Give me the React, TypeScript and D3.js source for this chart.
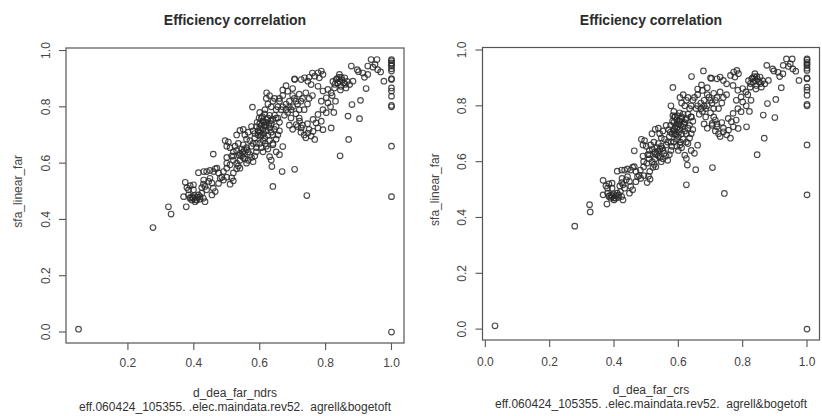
import React from 'react';
import * as d3 from 'd3';

// sfa_linear_far vs d_dea_far_ndrs (left panel)
const ndrsPoints: [number, number][] = [
  [0.05, 0.01], [1.0, 0.0], [0.276, 0.371], [0.323, 0.445], [0.331, 0.419], [0.377, 0.445],
  [0.369, 0.481], [0.384, 0.487], [0.399, 0.475], [0.409, 0.469], [0.419, 0.481], [0.429, 0.475], [0.414, 0.487],
  [0.394, 0.469], [0.404, 0.463], [0.434, 0.463], [0.424, 0.493], [0.39, 0.478], [0.41, 0.478], [0.402, 0.485],
  [0.374, 0.532], [0.389, 0.52], [0.399, 0.523], [0.384, 0.505], [0.399, 0.505], [0.379, 0.513],
  [0.429, 0.525], [0.424, 0.513], [0.434, 0.517], [0.439, 0.505], [0.455, 0.487], [0.459, 0.511], [0.455, 0.529],
  [0.449, 0.546], [0.465, 0.499], [0.414, 0.566], [0.43, 0.57], [0.43, 0.54],
  [0.439, 0.57], [0.449, 0.574], [0.465, 0.58], [0.47, 0.582], [0.475, 0.565], [0.48, 0.546], [0.485, 0.55],
  [0.49, 0.57], [0.5, 0.582], [0.51, 0.594], [0.5, 0.6], [0.5, 0.55], [0.52, 0.565], [0.52, 0.537], [0.51, 0.525],
  [0.53, 0.58], [0.54, 0.582], [0.535, 0.59], [0.515, 0.548], [0.49, 0.54], [0.475, 0.528], [0.459, 0.632],
  [0.46, 0.57], [0.445, 0.535],
  [0.5, 0.66], [0.51, 0.655], [0.52, 0.64], [0.525, 0.66], [0.53, 0.645], [0.54, 0.635], [0.545, 0.625], [0.55, 0.62],
  [0.555, 0.615], [0.545, 0.65], [0.535, 0.67], [0.55, 0.665], [0.56, 0.655], [0.565, 0.64], [0.57, 0.63],
  [0.575, 0.62], [0.58, 0.605], [0.56, 0.6], [0.565, 0.61], [0.585, 0.625], [0.59, 0.64], [0.52, 0.61], [0.53, 0.6],
  [0.54, 0.61], [0.5, 0.62], [0.515, 0.625], [0.495, 0.68], [0.505, 0.675], [0.53, 0.7], [0.54, 0.716], [0.555, 0.7],
  [0.56, 0.685], [0.57, 0.68], [0.575, 0.66], [0.58, 0.67], [0.59, 0.67], [0.585, 0.69], [0.595, 0.7], [0.55, 0.72],
  [0.565, 0.71], [0.575, 0.73],
  [0.578, 0.799], [0.621, 0.85], [0.62, 0.83], [0.616, 0.79], [0.63, 0.84], [0.64, 0.82], [0.635, 0.8], [0.645, 0.83],
  [0.625, 0.81], [0.65, 0.79], [0.655, 0.8], [0.66, 0.82], [0.6, 0.78], [0.605, 0.76], [0.61, 0.75], [0.6, 0.74],
  [0.59, 0.73], [0.615, 0.735], [0.62, 0.745], [0.625, 0.76], [0.63, 0.77], [0.635, 0.74], [0.64, 0.755], [0.645, 0.77],
  [0.61, 0.72], [0.6, 0.71], [0.605, 0.7], [0.615, 0.69], [0.625, 0.7], [0.62, 0.715], [0.63, 0.725], [0.635, 0.71],
  [0.64, 0.7], [0.645, 0.72], [0.61, 0.68], [0.6, 0.67], [0.62, 0.66], [0.63, 0.68], [0.625, 0.65], [0.64, 0.67],
  [0.65, 0.685], [0.655, 0.7], [0.66, 0.715], [0.65, 0.73], [0.66, 0.745], [0.655, 0.76], [0.637, 0.588], [0.635, 0.611],
  [0.63, 0.623], [0.64, 0.665], [0.67, 0.659], [0.668, 0.57], [0.64, 0.517], [0.65, 0.64], [0.66, 0.63], [0.61, 0.64],
  [0.67, 0.86], [0.685, 0.855], [0.7, 0.84], [0.705, 0.83], [0.69, 0.82], [0.68, 0.81], [0.7, 0.8], [0.715, 0.81],
  [0.73, 0.83], [0.72, 0.845], [0.7, 0.865], [0.68, 0.875], [0.67, 0.84], [0.66, 0.83], [0.685, 0.78], [0.71, 0.775],
  [0.72, 0.76], [0.695, 0.76], [0.675, 0.77], [0.68, 0.79], [0.72, 0.79], [0.735, 0.79], [0.745, 0.81], [0.75, 0.83],
  [0.76, 0.84], [0.74, 0.85], [0.706, 0.899], [0.69, 0.735], [0.7, 0.72], [0.715, 0.73], [0.73, 0.735], [0.745, 0.74],
  [0.75, 0.72], [0.735, 0.7], [0.74, 0.69], [0.725, 0.71], [0.706, 0.578], [0.743, 0.485],
  [0.736, 0.903], [0.746, 0.891], [0.726, 0.897], [0.706, 0.897], [0.756, 0.879], [0.777, 0.873], [0.792, 0.856],
  [0.807, 0.862], [0.817, 0.85], [0.802, 0.832], [0.787, 0.82], [0.807, 0.814], [0.792, 0.79], [0.802, 0.779],
  [0.777, 0.773], [0.762, 0.755], [0.771, 0.743], [0.787, 0.749], [0.817, 0.725], [0.792, 0.719], [0.777, 0.725],
  [0.762, 0.713], [0.746, 0.707], [0.756, 0.696], [0.767, 0.684], [0.726, 0.725], [0.721, 0.749], [0.711, 0.737],
  [0.787, 0.927], [0.792, 0.915], [0.777, 0.921], [0.781, 0.903], [0.767, 0.909], [0.76, 0.92], [0.75, 0.905],
  [0.842, 0.915], [0.858, 0.903], [0.832, 0.897], [0.837, 0.885], [0.847, 0.873], [0.862, 0.867], [0.873, 0.879],
  [0.883, 0.891], [0.827, 0.867], [0.85, 0.895], [0.855, 0.885], [0.84, 0.905], [0.865, 0.89], [0.845, 0.86],
  [0.82, 0.84], [0.83, 0.82], [0.815, 0.8], [0.825, 0.78], [0.844, 0.626], [0.87, 0.684], [0.868, 0.767],
  [0.903, 0.758], [0.88, 0.808], [0.906, 0.823], [0.923, 0.865],
  [0.938, 0.968], [0.956, 0.968], [0.928, 0.945], [0.944, 0.941], [0.878, 0.945], [0.896, 0.932], [0.913, 0.92],
  [0.928, 0.915], [0.918, 0.905], [0.958, 0.932], [0.967, 0.924], [0.977, 0.891], [0.9, 0.925], [0.95, 0.95],
  [1, 0.968], [1, 0.964], [1, 0.956], [1, 0.95], [1, 0.945], [1, 0.935], [1, 0.927], [1, 0.9], [1, 0.897],
  [1, 0.867], [1, 0.856], [1, 0.838], [1, 0.805], [1, 0.8], [1, 0.66], [1, 0.481],
  [0.6, 0.725], [0.605, 0.735], [0.612, 0.745], [0.618, 0.73], [0.622, 0.755], [0.608, 0.765], [0.615, 0.775],
  [0.598, 0.76], [0.592, 0.745], [0.628, 0.735], [0.633, 0.75], [0.603, 0.695], [0.612, 0.705], [0.595, 0.715],
  [0.585, 0.705], [0.58, 0.715], [0.617, 0.67], [0.605, 0.655], [0.59, 0.655], [0.548, 0.638], [0.553, 0.645],
  [0.538, 0.628], [0.56, 0.648], [0.52, 0.625], [0.65, 0.76], [0.67, 0.8], [0.665, 0.79], [0.69, 0.8], [0.695, 0.79],
  [0.71, 0.82], [0.725, 0.82], [0.835, 0.9], [0.848, 0.905], [0.843, 0.89], [0.828, 0.88], [0.822, 0.89], [0.86, 0.88],
  [0.388, 0.475], [0.396, 0.48], [0.405, 0.47], [0.418, 0.472],
];

// sfa_linear_far vs d_dea_far_crs (right panel)
const crsPoints: [number, number][] = [
  [0.03, 0.012], [1.0, 0.0], [0.278, 0.369], [0.324, 0.446], [0.326, 0.42], [0.378, 0.448],
  [0.366, 0.481], [0.38, 0.487], [0.395, 0.475], [0.405, 0.469], [0.415, 0.481], [0.424, 0.475], [0.41, 0.487],
  [0.39, 0.469], [0.4, 0.463], [0.428, 0.463], [0.42, 0.493], [0.386, 0.478], [0.406, 0.478], [0.398, 0.485],
  [0.366, 0.533], [0.384, 0.52], [0.394, 0.523], [0.38, 0.505], [0.394, 0.505], [0.375, 0.513],
  [0.424, 0.525], [0.418, 0.513], [0.428, 0.517], [0.433, 0.505], [0.448, 0.487], [0.452, 0.511], [0.448, 0.529],
  [0.442, 0.546], [0.458, 0.499], [0.41, 0.566], [0.424, 0.57], [0.425, 0.54],
  [0.433, 0.57], [0.442, 0.574], [0.458, 0.58], [0.463, 0.582], [0.468, 0.565], [0.473, 0.546], [0.478, 0.55],
  [0.482, 0.57], [0.492, 0.582], [0.502, 0.594], [0.492, 0.6], [0.493, 0.55], [0.511, 0.565], [0.512, 0.537],
  [0.503, 0.525], [0.521, 0.58], [0.53, 0.582], [0.525, 0.59], [0.507, 0.548], [0.483, 0.54], [0.468, 0.528],
  [0.463, 0.639], [0.452, 0.57], [0.438, 0.535],
  [0.49, 0.66], [0.5, 0.655], [0.51, 0.64], [0.514, 0.66], [0.519, 0.645], [0.528, 0.635], [0.533, 0.625],
  [0.538, 0.62], [0.543, 0.615], [0.533, 0.65], [0.524, 0.67], [0.538, 0.665], [0.547, 0.655], [0.552, 0.64],
  [0.557, 0.63], [0.562, 0.62], [0.567, 0.605], [0.547, 0.6], [0.552, 0.61], [0.572, 0.625], [0.577, 0.64],
  [0.509, 0.61], [0.519, 0.6], [0.528, 0.61], [0.49, 0.62], [0.505, 0.625], [0.485, 0.68], [0.495, 0.675],
  [0.518, 0.7], [0.528, 0.716], [0.542, 0.7], [0.547, 0.685], [0.557, 0.68], [0.562, 0.66], [0.567, 0.67],
  [0.577, 0.67], [0.572, 0.69], [0.581, 0.7], [0.538, 0.72], [0.552, 0.71], [0.562, 0.73],
  [0.577, 0.8], [0.583, 0.866], [0.605, 0.83], [0.583, 0.765], [0.615, 0.84], [0.625, 0.82], [0.62, 0.8],
  [0.63, 0.83], [0.61, 0.81], [0.635, 0.79], [0.64, 0.8], [0.645, 0.82], [0.586, 0.78], [0.59, 0.76], [0.595, 0.75],
  [0.586, 0.74], [0.576, 0.73], [0.6, 0.735], [0.605, 0.745], [0.61, 0.76], [0.615, 0.77], [0.62, 0.74],
  [0.625, 0.755], [0.63, 0.77], [0.595, 0.72], [0.586, 0.71], [0.59, 0.7], [0.6, 0.69], [0.61, 0.7], [0.605, 0.715],
  [0.615, 0.725], [0.62, 0.71], [0.625, 0.7], [0.63, 0.72], [0.595, 0.68], [0.586, 0.67], [0.605, 0.66],
  [0.615, 0.68], [0.61, 0.65], [0.625, 0.67], [0.635, 0.685], [0.64, 0.7], [0.645, 0.715], [0.635, 0.73],
  [0.645, 0.745], [0.64, 0.76], [0.628, 0.588], [0.625, 0.611], [0.62, 0.623], [0.63, 0.665], [0.66, 0.659],
  [0.654, 0.571], [0.625, 0.517], [0.64, 0.64], [0.65, 0.63], [0.6, 0.64],
  [0.66, 0.86], [0.675, 0.855], [0.69, 0.84], [0.695, 0.83], [0.68, 0.82], [0.67, 0.81], [0.69, 0.8], [0.705, 0.81],
  [0.72, 0.83], [0.71, 0.845], [0.69, 0.865], [0.672, 0.875], [0.66, 0.84], [0.65, 0.83], [0.675, 0.78],
  [0.7, 0.775], [0.71, 0.76], [0.685, 0.76], [0.665, 0.77], [0.67, 0.79], [0.71, 0.79], [0.725, 0.79], [0.735, 0.81],
  [0.74, 0.83], [0.75, 0.84], [0.73, 0.85], [0.703, 0.898], [0.68, 0.735], [0.69, 0.72], [0.705, 0.73], [0.72, 0.735],
  [0.735, 0.74], [0.74, 0.72], [0.725, 0.7], [0.73, 0.69], [0.715, 0.71], [0.706, 0.579], [0.743, 0.486],
  [0.73, 0.903], [0.74, 0.891], [0.72, 0.897], [0.7, 0.9], [0.75, 0.879], [0.77, 0.873], [0.785, 0.856],
  [0.8, 0.862], [0.81, 0.85], [0.795, 0.832], [0.78, 0.82], [0.8, 0.814], [0.785, 0.79], [0.795, 0.779],
  [0.77, 0.773], [0.755, 0.755], [0.765, 0.743], [0.78, 0.749], [0.812, 0.725], [0.786, 0.719], [0.771, 0.725],
  [0.756, 0.713], [0.74, 0.707], [0.75, 0.696], [0.762, 0.684], [0.72, 0.725], [0.715, 0.749], [0.705, 0.737],
  [0.782, 0.927], [0.787, 0.915], [0.772, 0.921], [0.776, 0.903], [0.762, 0.909], [0.678, 0.925], [0.641, 0.905],
  [0.838, 0.915], [0.854, 0.903], [0.828, 0.897], [0.833, 0.885], [0.843, 0.873], [0.858, 0.867], [0.869, 0.879],
  [0.88, 0.891], [0.823, 0.867], [0.846, 0.895], [0.851, 0.885], [0.836, 0.905], [0.862, 0.89], [0.841, 0.86],
  [0.816, 0.84], [0.826, 0.82], [0.811, 0.8], [0.821, 0.78], [0.845, 0.625], [0.867, 0.684], [0.864, 0.767],
  [0.9, 0.758], [0.877, 0.808], [0.903, 0.823], [0.92, 0.865],
  [0.936, 0.968], [0.954, 0.968], [0.926, 0.945], [0.942, 0.941], [0.875, 0.945], [0.893, 0.932], [0.91, 0.92],
  [0.925, 0.915], [0.915, 0.905], [0.956, 0.932], [0.965, 0.924], [0.975, 0.891], [0.897, 0.925], [0.948, 0.95],
  [1, 0.968], [1, 0.964], [1, 0.956], [1, 0.95], [1, 0.945], [1, 0.935], [1, 0.927], [1, 0.9], [1, 0.897],
  [1, 0.867], [1, 0.856], [1, 0.838], [1, 0.805], [1, 0.8], [1, 0.66], [1, 0.481],
  [0.59, 0.725], [0.595, 0.735], [0.602, 0.745], [0.607, 0.73], [0.611, 0.755], [0.597, 0.765], [0.604, 0.775],
  [0.588, 0.76], [0.582, 0.745], [0.617, 0.735], [0.622, 0.75], [0.593, 0.695], [0.601, 0.705], [0.585, 0.715],
  [0.575, 0.705], [0.57, 0.715], [0.606, 0.67], [0.595, 0.655], [0.58, 0.655], [0.538, 0.638], [0.543, 0.645],
  [0.528, 0.628], [0.55, 0.648], [0.51, 0.625], [0.64, 0.76], [0.66, 0.8], [0.655, 0.79], [0.68, 0.8], [0.685, 0.79],
  [0.7, 0.82], [0.715, 0.82], [0.831, 0.9], [0.844, 0.905], [0.839, 0.89], [0.824, 0.88], [0.818, 0.89], [0.856, 0.88],
  [0.384, 0.475], [0.392, 0.48], [0.4, 0.47], [0.413, 0.472],
];

const yTicks = [0, 0.2, 0.4, 0.6, 0.8, 1.0];
const ndrsTicks = [0.2, 0.4, 0.6, 0.8, 1.0];
const crsTicks = [0, 0.2, 0.4, 0.6, 0.8, 1.0];

const titleText = 'Efficiency correlation';
const yLabelText = 'sfa_linear_far';
const subText = 'eff.060424_105355. .elec.maindata.rev52.  agrell&bogetoft';

const font = '"Liberation Sans", Arial, Helvetica, sans-serif';
const ink = '#2b2b2b';
const fmt = d3.format('.1f');

type Box = { left: number; right: number; top: number; bottom: number };

function Panel({ points, xTicks, xLabel, xDomain, box, yLabX, yTickX, tickY, xLabY }: {
  points: [number, number][]; xTicks: number[]; xLabel: string; xDomain: [number, number];
  box: Box; yLabX: number; yTickX: number; tickY: number; xLabY: number;
}) {
  const x = d3.scaleLinear().domain(xDomain).range([box.left, box.right]);
  const y = d3.scaleLinear().domain([-0.039, 1.009]).range([box.bottom, box.top]);
  const cx = (box.left + box.right) / 2;
  const cy = (y(0) + y(1)) / 2;
  return (
    <g fontFamily={font} fill={ink}>
      <text x={cx} y={box.top - 23} textAnchor="middle" fontWeight="bold" fontSize={14}>{titleText}</text>
      <rect x={box.left} y={box.top} width={box.right - box.left} height={box.bottom - box.top}
        fill="none" stroke="#555" strokeWidth={1.2} />
      {xTicks.map(t => (
        <g key={'x' + t}>
          <line x1={x(t)} x2={x(t)} y1={box.bottom} y2={box.bottom + 7} stroke="#555" strokeWidth={1.1} />
          <text x={x(t)} y={tickY} textAnchor="middle" fontSize={12} fill="#444">{fmt(t)}</text>
        </g>
      ))}
      {yTicks.map(t => (
        <g key={'y' + t}>
          <line x1={box.left - 7} x2={box.left} y1={y(t)} y2={y(t)} stroke="#555" strokeWidth={1.1} />
          <text transform={`translate(${yTickX},${y(t)}) rotate(-90)`} textAnchor="middle" fontSize={12} fill="#444">{fmt(t)}</text>
        </g>
      ))}
      <text transform={`translate(${yLabX},${cy}) rotate(-90)`} textAnchor="middle" fontSize={12} fill="#444">{yLabelText}</text>
      <text x={cx} y={xLabY} textAnchor="middle" fontSize={12} fill="#333">{xLabel}</text>
      <text x={cx} y={xLabY + 14} textAnchor="middle" fontSize={12} fill="#333" style={{ whiteSpace: 'pre' }}>{subText}</text>
      {points.map((p, i) => (
        <circle key={i} cx={x(p[0])} cy={y(p[1])} r={2.8} fill="none" stroke="#2a2a2a" strokeOpacity={0.85} strokeWidth={1.15} />
      ))}
    </g>
  );
}

export default function App() {
  return (
    <svg width={822} height={416} style={{ position: 'absolute', left: 0, top: 0, background: '#fff' }}>
      <rect width={822} height={416} fill="#fff" />
      <Panel points={ndrsPoints} xTicks={ndrsTicks} xLabel="d_dea_far_ndrs" xDomain={[0.012, 1.038]}
        box={{ left: 66, right: 404, top: 48, bottom: 343 }} yLabX={22} yTickX={50} tickY={367} xLabY={397} />
      <Panel points={crsPoints} xTicks={crsTicks} xLabel="d_dea_far_crs" xDomain={[-0.0088, 1.0388]}
        box={{ left: 482.5, right: 819.5, top: 47.5, bottom: 340 }} yLabX={439} yTickX={466} tickY={366} xLabY={394} />
    </svg>
  );
}
